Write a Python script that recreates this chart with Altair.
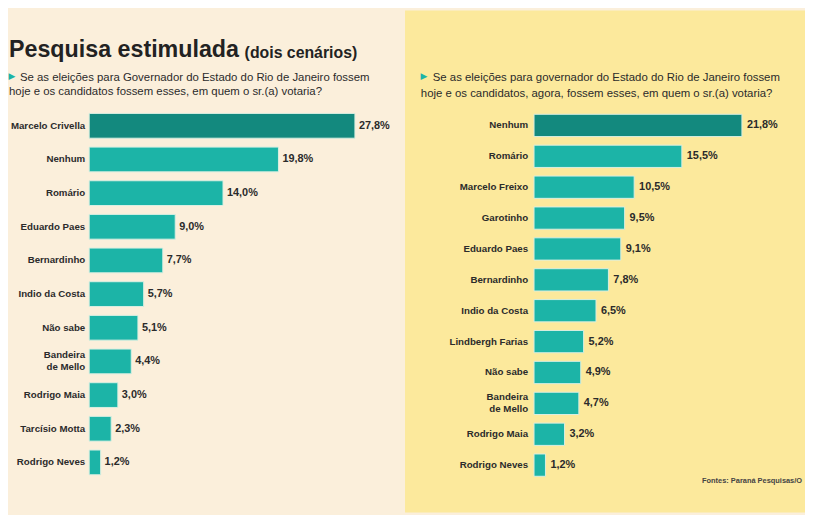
import altair as alt
import pandas as pd

# ---- data ----
cand_1 = ["Marcelo Crivella", "Nenhum", "Romário", "Eduardo Paes", "Bernardinho",
          "Indio da Costa", "Não sabe", "Bandeira\nde Mello", "Rodrigo Maia",
          "Tarcísio Motta", "Rodrigo Neves"]
val_1 = [27.8, 19.8, 14.0, 9.0, 7.7, 5.7, 5.1, 4.4, 3.0, 2.3, 1.2]

cand_2 = ["Nenhum", "Romário", "Marcelo Freixo", "Garotinho", "Eduardo Paes",
          "Bernardinho", "Indio da Costa", "Lindbergh Farias", "Não sabe",
          "Bandeira\nde Mello", "Rodrigo Maia", "Rodrigo Neves"]
val_2 = [21.8, 15.5, 10.5, 9.5, 9.1, 7.8, 6.5, 5.2, 4.9, 4.7, 3.2, 1.2]

title_main = "Pesquisa estimulada"
title_sub = "(dois cenários)"
q1 = ["Se as eleições para Governador do Estado do Rio de Janeiro fossem",
      "hoje e os candidatos fossem esses, em quem o sr.(a) votaria?"]
q2 = ["Se as eleições para governador do Estado do Rio de Janeiro fossem",
      "hoje e os candidatos, agora, fossem esses, em quem o sr.(a) votaria?"]
fonte = "Fontes: Paraná Pesquisas/O Dia"

# ---- style ----
FONT = "Liberation Sans, Arial, sans-serif"
BG_L = "#fbefdb"
BG_R = "#fce99c"
DARK = "#13897e"
LIGHT = "#1cb4a7"
TXT = "#2b2b2b"
H = 507


def make_df(c, v):
    df = pd.DataFrame({"cand": c, "val": v})
    df["ordem"] = list(range(len(v)))
    df["txt"] = [f"{x:.1f}".replace(".", ",") + "%" for x in v]
    df["base"] = 0.0
    return df


def one(text):
    return alt.Chart(pd.DataFrame({"t": [text]}))


def panel(df, W, xdom, step, first_center, bar_h, label_dx, val_dx, q, qx, qy, tri, bg,
          qsize):
    d0 = -first_center / step
    d1 = d0 + H / step
    x = alt.X("val:Q", scale=alt.Scale(domain=xdom, nice=False), axis=None)
    xb = alt.X("base:Q", scale=alt.Scale(domain=xdom, nice=False), axis=None)
    y = alt.Y("ordem:Q", scale=alt.Scale(domain=[d0, d1], nice=False, zero=False,
                                         reverse=True), axis=None)
    base = alt.Chart(df)
    back = one("").mark_rect(color=bg).encode(
        x=alt.value(0), x2=alt.value(W), y=alt.value(0), y2=alt.value(H))
    bars = base.mark_bar(orient="horizontal", size=bar_h, stroke="#d9efe2",
                         strokeWidth=1).encode(
        x=x, x2="base:Q", y=y,
        color=alt.condition("datum.ordem == 0", alt.value(DARK), alt.value(LIGHT)),
    )
    lab_style = dict(align="right", baseline="middle", dx=label_dx, font=FONT,
                     fontSize=9.8, fontWeight="bold", color=TXT, lineBreak="\n",
                     lineHeight=12)
    labels1 = base.transform_filter("indexof(datum.cand, '\\n') < 0").mark_text(
        **lab_style).encode(x=xb, y=y, text="cand:N")
    labels2 = base.transform_filter("indexof(datum.cand, '\\n') >= 0").mark_text(
        dy=-6, **lab_style).encode(x=xb, y=y, text="cand:N")
    values = base.mark_text(align="left", baseline="middle", dx=val_dx, font=FONT,
                            fontSize=11, fontWeight="bold", color=TXT).encode(
        x=x, y=y, text="txt:N")
    tri_mark = one("▶").mark_text(align="center", baseline="middle", font="DejaVu Sans",
                                  fontSize=9, color=LIGHT).encode(
        text="t:N", x=alt.value(tri[0]), y=alt.value(tri[1]))
    l1 = one(q[0]).mark_text(align="left", baseline="alphabetic", font=FONT,
                             fontSize=qsize, color=TXT).encode(
        text="t:N", x=alt.value(qx[0]), y=alt.value(qy[0]))
    l2 = one(q[1]).mark_text(align="left", baseline="alphabetic", font=FONT,
                             fontSize=qsize, color=TXT).encode(
        text="t:N", x=alt.value(qx[1]), y=alt.value(qy[1]))
    return [back, bars, labels1, labels2, values, tri_mark, l1, l2]


left_layers = panel(make_df(cand_1, val_1), 401, [-8.493, 33.04], 34.68, 113.7, 25,
                    -4, 4, q1, (12, 1), (71, 85), (4, 66), BG_L, 11.5)
t1 = one(title_main).mark_text(align="left", baseline="alphabetic", font=FONT,
                               fontSize=23.5, fontWeight="bold", color="#222").encode(
    text="t:N", x=alt.value(1), y=alt.value(47))
t2 = one(title_sub).mark_text(align="left", baseline="alphabetic", font=FONT,
                              fontSize=16, fontWeight="bold", color="#222").encode(
    text="t:N", x=alt.value(239), y=alt.value(48))
left = alt.layer(*left_layers, t1, t2).properties(width=401, height=H)

right_layers = panel(make_df(cand_2, val_2), 404, [-13.527, 28.413], 31.82, 113.3, 22.5,
                     -6, 5, q2, (28, 16), (71, 87), (19, 66), BG_R, 11.5)
src = one(fonte).mark_text(align="left", baseline="alphabetic", font=FONT, fontSize=7.5,
                           fontWeight="bold", color="#444", limit=104, ellipsis=" ").encode(
    text="t:N", x=alt.value(300), y=alt.value(477))
right = alt.layer(*right_layers, src).properties(width=404, height=H)

chart = alt.hconcat(left, right, spacing=0).properties(
    padding=0, background=BG_L, bounds="flush"
).configure_view(strokeWidth=0)

chart.save("out.html", embed_options={"renderer": "svg", "actions": False})
